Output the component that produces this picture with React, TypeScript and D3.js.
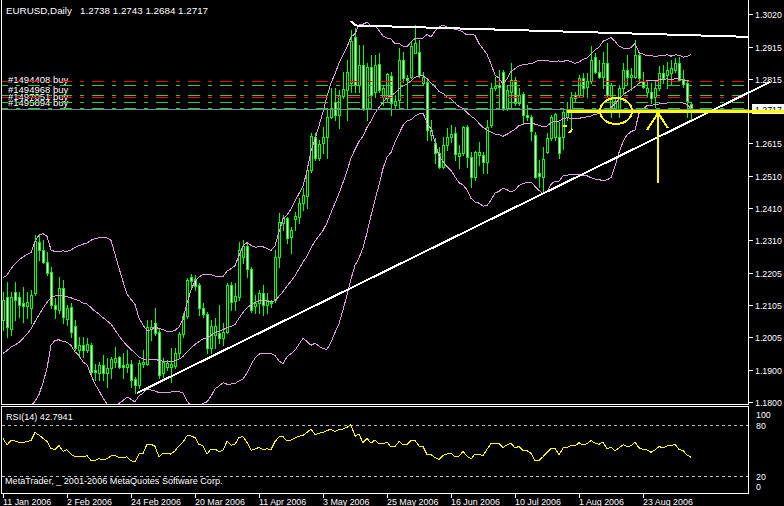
import React, { useEffect } from "react";
import * as d3 from "d3";

// ---------- data ----------
const symbolTitle = "EURUSD,Daily";
const rsiTitle = "RSI(14) 42.7941";
const copyright = "MetaTrader, _ 2001-2006 MetaQuotes Software Corp.";

// closes before the first visible bar (estimated from the band / RSI start)
const priorCloses = [1.1860, 1.1920, 1.1990, 1.1930, 1.1850, 1.1840, 1.1830, 1.1830, 1.1850, 1.1830,
  1.1840, 1.1800, 1.2000, 1.2120, 1.2110, 1.2130, 1.2090, 1.2080, 1.2040];

const opens = [
  1.2058, 1.2129, 1.2031, 1.2147, 1.2129, 1.2110, 1.2102, 1.2097, 1.2144, 1.2304,
  1.2278, 1.2241, 1.2210, 1.2105, 1.2089, 1.2157, 1.2060, 1.2100, 1.2039, 1.1965,
  1.1979, 1.1963, 1.1979, 1.1900, 1.1892, 1.1916, 1.1890, 1.1906, 1.1927, 1.1940,
  1.1915, 1.1911, 1.1919, 1.1871, 1.1853, 1.1921, 1.1921, 1.2031, 1.2047, 1.2021,
  1.1890, 1.1909, 1.1911, 1.1913, 1.1953, 1.2014, 1.2070, 1.2192, 1.2186, 1.2168,
  1.2094, 1.2077, 1.1969, 1.2011, 1.2016, 1.2000, 1.2021, 1.2168, 1.2119, 1.2131,
  1.2257, 1.2290, 1.2217, 1.2102, 1.2110, 1.2142, 1.2105, 1.2115, 1.2121, 1.2255,
  1.2362, 1.2377, 1.2318, 1.2374, 1.2383, 1.2427, 1.2448, 1.2529, 1.2632, 1.2566,
  1.2613, 1.2632, 1.2697, 1.2744, 1.2702, 1.2762, 1.2781, 1.2804, 1.2949, 1.2797,
  1.2860, 1.2726, 1.2854, 1.2776, 1.2863, 1.2758, 1.2755, 1.2825, 1.2733, 1.2749,
  1.2875, 1.2818, 1.2821, 1.2898, 1.2901, 1.2804, 1.2807, 1.2639, 1.2613, 1.2582,
  1.2540, 1.2608, 1.2632, 1.2647, 1.2573, 1.2582, 1.2666, 1.2571, 1.2506, 1.2577,
  1.2577, 1.2556, 1.2671, 1.2786, 1.2797, 1.2839, 1.2723, 1.2776, 1.2814, 1.2741,
  1.2768, 1.2702, 1.2697, 1.2639, 1.2521, 1.2506, 1.2587, 1.2629, 1.2634, 1.2634,
  1.2632, 1.2697, 1.2721, 1.2766, 1.2766, 1.2818, 1.2792, 1.2808, 1.2884, 1.2839,
  1.2823, 1.2865, 1.2718, 1.2718, 1.2718, 1.2787, 1.2844, 1.2823, 1.2823, 1.2891,
  1.2808, 1.2776, 1.2776, 1.2760, 1.2787, 1.2834, 1.2829, 1.2834, 1.2844, 1.2865,
  1.2815, 1.2802, 1.2738];

const highs = [
  1.2147, 1.2178, 1.2147, 1.2178, 1.2147, 1.2162, 1.2147, 1.2152, 1.2325, 1.2325,
  1.2309, 1.2272, 1.2225, 1.2126, 1.2194, 1.2183, 1.2105, 1.2110, 1.2058, 1.2005,
  1.2005, 1.2000, 1.1984, 1.1921, 1.1927, 1.1948, 1.1937, 1.1942, 1.1974, 1.1944,
  1.1953, 1.1963, 1.1932, 1.1879, 1.1932, 1.1963, 1.2058, 1.2058, 1.2094, 1.2031,
  1.1937, 1.1932, 1.1969, 1.1969, 1.2021, 1.2079, 1.2189, 1.2204, 1.2199, 1.2173,
  1.2110, 1.2084, 1.2058, 1.2063, 1.2105, 1.2047, 1.2173, 1.2178, 1.2173, 1.2304,
  1.2309, 1.2299, 1.2225, 1.2136, 1.2152, 1.2168, 1.2142, 1.2121, 1.2278, 1.2393,
  1.2388, 1.2383, 1.2351, 1.2398, 1.2440, 1.2472, 1.2545, 1.2645, 1.2645, 1.2624,
  1.2666, 1.2718, 1.2786, 1.2786, 1.2781, 1.2839, 1.2875, 1.2970, 1.2975, 1.2922,
  1.2922, 1.2865, 1.2891, 1.2891, 1.2896, 1.2797, 1.2833, 1.2839, 1.2765, 1.2912,
  1.2901, 1.2828, 1.2936, 1.2985, 1.2938, 1.2839, 1.2812, 1.2687, 1.2629, 1.2603,
  1.2634, 1.2660, 1.2671, 1.2666, 1.2608, 1.2668, 1.2671, 1.2587, 1.2590, 1.2618,
  1.2587, 1.2687, 1.2802, 1.2823, 1.2844, 1.2844, 1.2797, 1.2865, 1.2823, 1.2786,
  1.2776, 1.2734, 1.2702, 1.2650, 1.2561, 1.2603, 1.2645, 1.2702, 1.2708, 1.2681,
  1.2723, 1.2744, 1.2776, 1.2776, 1.2829, 1.2834, 1.2834, 1.2918, 1.2897, 1.2876,
  1.2902, 1.2928, 1.2802, 1.2760, 1.2797, 1.2865, 1.2891, 1.2849, 1.2939, 1.2902,
  1.2839, 1.2813, 1.2802, 1.2813, 1.2855, 1.2860, 1.2870, 1.2876, 1.2881, 1.2886,
  1.2844, 1.2813, 1.2743];

const lows = [
  1.2026, 1.2005, 1.2010, 1.2058, 1.2068, 1.2052, 1.2063, 1.2047, 1.2136, 1.2246,
  1.2236, 1.2199, 1.2094, 1.2063, 1.2079, 1.2047, 1.2042, 1.2005, 1.1963, 1.1942,
  1.1942, 1.1958, 1.1885, 1.1869, 1.1869, 1.1869, 1.1848, 1.1874, 1.1911, 1.1906,
  1.1874, 1.1895, 1.1848, 1.1827, 1.1843, 1.1911, 1.1916, 1.1995, 1.2010, 1.1874,
  1.1879, 1.1900, 1.1864, 1.1906, 1.1942, 1.2005, 1.2063, 1.2163, 1.2152, 1.2074,
  1.2068, 1.1953, 1.1953, 1.1969, 1.1985, 1.1979, 1.2016, 1.2089, 1.2089, 1.2121,
  1.2236, 1.2194, 1.2084, 1.2079, 1.2079, 1.2074, 1.2079, 1.2100, 1.2115, 1.2225,
  1.2341, 1.2299, 1.2267, 1.2341, 1.2362, 1.2404, 1.2409, 1.2524, 1.2561, 1.2561,
  1.2582, 1.2566, 1.2692, 1.2687, 1.2660, 1.2755, 1.2687, 1.2776, 1.2776, 1.2776,
  1.2718, 1.2687, 1.2729, 1.2760, 1.2776, 1.2734, 1.2744, 1.2702, 1.2723, 1.2723,
  1.2807, 1.2723, 1.2818, 1.2896, 1.2823, 1.2797, 1.2624, 1.2624, 1.2550, 1.2535,
  1.2535, 1.2592, 1.2618, 1.2561, 1.2535, 1.2577, 1.2540, 1.2477, 1.2498, 1.2545,
  1.2519, 1.2519, 1.2666, 1.2781, 1.2729, 1.2718, 1.2718, 1.2729, 1.2734, 1.2734,
  1.2676, 1.2687, 1.2624, 1.2503, 1.2477, 1.2456, 1.2582, 1.2624, 1.2624, 1.2566,
  1.2597, 1.2687, 1.2666, 1.2745, 1.2760, 1.2760, 1.2760, 1.2802, 1.2834, 1.2818,
  1.2787, 1.2760, 1.2697, 1.2713, 1.2697, 1.2771, 1.2797, 1.2781, 1.2818, 1.2802,
  1.2787, 1.2760, 1.2739, 1.2729, 1.2781, 1.2802, 1.2787, 1.2797, 1.2839, 1.2808,
  1.2792, 1.2697, 1.2684];

const closes = [
  1.2120, 1.2035, 1.2131, 1.2120, 1.2105, 1.2102, 1.2115, 1.2136, 1.2307, 1.2278,
  1.2241, 1.2206, 1.2105, 1.2091, 1.2157, 1.2068, 1.2094, 1.2021, 1.1969, 1.1979,
  1.1963, 1.1982, 1.1895, 1.1895, 1.1916, 1.1890, 1.1908, 1.1934, 1.1939, 1.1911,
  1.1911, 1.1919, 1.1869, 1.1853, 1.1923, 1.1927, 1.2035, 1.2035, 1.2016, 1.1885,
  1.1927, 1.1923, 1.1918, 1.1953, 1.2014, 1.2070, 1.2183, 1.2181, 1.2165, 1.2094,
  1.2077, 1.1969, 1.2039, 1.2039, 1.2000, 1.2021, 1.2168, 1.2115, 1.2133, 1.2278,
  1.2290, 1.2217, 1.2089, 1.2112, 1.2142, 1.2105, 1.2121, 1.2110, 1.2255, 1.2367,
  1.2377, 1.2315, 1.2341, 1.2385, 1.2427, 1.2451, 1.2529, 1.2636, 1.2566, 1.2611,
  1.2634, 1.2697, 1.2726, 1.2702, 1.2764, 1.2783, 1.2839, 1.2936, 1.2797, 1.2860,
  1.2726, 1.2854, 1.2765, 1.2860, 1.2781, 1.2786, 1.2831, 1.2739, 1.2747, 1.2875,
  1.2818, 1.2814, 1.2919, 1.2928, 1.2828, 1.2823, 1.2655, 1.2655, 1.2582, 1.2540,
  1.2608, 1.2632, 1.2643, 1.2580, 1.2584, 1.2664, 1.2571, 1.2508, 1.2587, 1.2587,
  1.2556, 1.2664, 1.2786, 1.2794, 1.2791, 1.2723, 1.2781, 1.2812, 1.2741, 1.2765,
  1.2702, 1.2697, 1.2653, 1.2508, 1.2511, 1.2563, 1.2629, 1.2697, 1.2706, 1.2582,
  1.2713, 1.2720, 1.2760, 1.2755, 1.2818, 1.2787, 1.2808, 1.2874, 1.2839, 1.2823,
  1.2865, 1.2766, 1.2797, 1.2745, 1.2787, 1.2844, 1.2823, 1.2829, 1.2891, 1.2818,
  1.2792, 1.2787, 1.2755, 1.2787, 1.2834, 1.2818, 1.2844, 1.2849, 1.2865, 1.2813,
  1.2800, 1.2745, 1.2717];

const dateLabels = ["11 Jan 2006", "2 Feb 2006", "24 Feb 2006", "20 Mar 2006", "11 Apr 2006",
  "3 May 2006", "25 May 2006", "16 Jun 2006", "10 Jul 2006", "1 Aug 2006", "23 Aug 2006"];
const dateBars = [0, 16, 32, 48, 64, 80, 96, 112, 128, 144, 160];

const priceTicks = [1.3020, 1.2915, 1.2815, 1.2615, 1.2510, 1.2410, 1.2310, 1.2205, 1.2105, 1.2005, 1.1900, 1.1800];
const rsiLabels = [100, 80, 20, 0];
const rsiLevels = [80, 20];

const orderTickets = ["#1494408", "#1494968", "#1497051", "#1495894"];
const orderPrices = [1.2797, 1.2764, 1.2742, 1.2723];
const stopPrices = [1.2808, 1.2758];
const bidPrice = 1.2720;

// drawn objects in (bar, price) space
const upperTrend = [[87, 1.2998], [88, 1.2984], [186.5, 1.2948]];
const lowerTrend = [[33.5, 1.1828], [191.75, 1.2806]];
const yellowLevel = { from: 141, to: 195.25, price: 1.2715 };
const ellipseMark = { bar: 153.25, price: 1.2715, halfBars: 4, halfPrice: 0.0041 };
const arrowShaft = [[163.75, 1.2709], [163.75, 1.2489]];
const arrowHead = [[161, 1.2655], [163.75, 1.2709], [166.25, 1.2661]];
const yellowDash = [[139.9, 1.2668], [141.1, 1.2668]];
const yellowHook = [[141.3, 1.2647], [141.9, 1.2650], [142.3, 1.2659]];

// ---------- indicators ----------
const allCloses = [...priorCloses, ...closes];
const P = priorCloses.length;
function bands(period: number, dev: number) {
  const mid: number[] = [], up: number[] = [], lo: number[] = [];
  for (let k = P; k < allCloses.length; k++) {
    const w = allCloses.slice(Math.max(0, k - period + 1), k + 1);
    const m = d3.mean(w) as number;
    const sd = Math.sqrt(d3.mean(w, (v) => (v - m) * (v - m)) as number);
    mid.push(m); up.push(m + dev * sd); lo.push(m - dev * sd);
  }
  return { mid, up, lo };
}
function rsiCalc(n: number) {
  const out: number[] = new Array(allCloses.length).fill(NaN);
  let pos = 0, neg = 0;
  for (let k = 1; k <= n; k++) {
    const d = allCloses[k] - allCloses[k - 1];
    if (d > 0) pos += d; else neg -= d;
  }
  pos /= n; neg /= n;
  out[n] = neg === 0 ? 100 : 100 - 100 / (1 + pos / neg);
  for (let k = n + 1; k < allCloses.length; k++) {
    const d = allCloses[k] - allCloses[k - 1];
    pos = (pos * (n - 1) + Math.max(d, 0)) / n;
    neg = (neg * (n - 1) + Math.max(-d, 0)) / n;
    out[k] = neg === 0 ? 100 : 100 - 100 / (1 + pos / neg);
  }
  return out.slice(P);
}

const FONT = "'Liberation Sans', Arial, sans-serif";
const LIME = "#00ff00";
const ORDER_GREEN = "#33cc33";
const BAND = "#dda0dd";

export default function App() {
  useEffect(() => {
    document.body.style.margin = "0";
    document.body.style.background = "#000";
  }, []);

  const last = closes.length - 1;
  const x = d3.scaleLinear().domain([0, last]).range([3, 3 + 4 * last]);
  const y = d3.scaleLinear().domain([1.1800, 1.3020]).range([402, 14]);
  const yR = d3.scaleLinear().domain([0, 100]).range([493, 408]);

  const L = 1.5, R = 748.5, MB = 404.5, RT = 406.5, RB = 493.5;

  const bb = bands(20, 2);
  const rsi = rsiCalc(14);
  const bandLine = d3.line<number>().x((_, i) => x(i)).y((d) => y(d));
  const rsiLine = d3.line<number>().defined((d) => !isNaN(d)).x((_, i) => x(i)).y((d) => yR(d));
  const pLine = d3.line<number[]>().x((d) => x(d[0])).y((d) => y(d[1]));

  const header = `${symbolTitle}   ${opens[last].toFixed(4)} ${highs[last].toFixed(4)} ${lows[last].toFixed(4)} ${closes[last].toFixed(4)}`;

  const candles = closes.map((c, i) => {
    const o = opens[i];
    const cx = Math.round(x(i));
    const top = Math.round(y(Math.max(o, c)));
    const bot = Math.round(y(Math.min(o, c)));
    const hy = Math.round(y(highs[i]));
    const ly = Math.round(y(lows[i]));
    const bull = c >= o;
    return (
      <g key={i}>
        <line x1={cx + 0.5} x2={cx + 0.5} y1={hy} y2={ly + 1} stroke={LIME} strokeWidth={1} />
        <rect x={cx - 0.5} y={top + 0.5} width={2} height={Math.max(bot - top, 0)}
          fill={bull ? "#000" : "#fff"} stroke={LIME} strokeWidth={1} />
      </g>
    );
  });

  const ex = x(ellipseMark.bar), ey = y(ellipseMark.price);
  const erx = x(ellipseMark.bar + ellipseMark.halfBars) - ex;
  const ery = y(ellipseMark.price - ellipseMark.halfPrice) - ey;

  const bidY = Math.round(y(closes[last]));

  return (
    <div style={{ position: "absolute", left: 0, top: 0, width: 784, height: 506, background: "#000" }}>
      <svg width={784} height={506} style={{ display: "block" }} fontFamily={FONT}>
        <defs>
          <clipPath id="mainClip"><rect x={2} y={0} width={746} height={404} /></clipPath>
          <clipPath id="rsiClip"><rect x={2} y={407} width={746} height={86} /></clipPath>
        </defs>
        <rect x={0} y={0} width={784} height={506} fill="#000" />

        {/* order labels (under the lines) */}
        {orderTickets.map((t, k) => (
          <text key={t} x={8} y={Math.round(y(orderPrices[k])) - 2} fill="#fff" fontSize={9.5}>{`${t} buy`}</text>
        ))}

        <g clipPath="url(#mainClip)" shapeRendering="crispEdges">
          {candles}
          <path d={bandLine(bb.up) || ""} fill="none" stroke={BAND} strokeWidth={1} />
          <path d={bandLine(bb.mid) || ""} fill="none" stroke={BAND} strokeWidth={1} />
          <path d={bandLine(bb.lo) || ""} fill="none" stroke={BAND} strokeWidth={1} />
          {/* bid line */}
          <line x1={L} x2={R} y1={Math.round(y(bidPrice)) + 0.5} y2={Math.round(y(bidPrice)) + 0.5} stroke="#778899" strokeWidth={1} />
          {/* order lines */}
          {stopPrices.map((p, k) => (
            <line key={"s" + k} x1={2} x2={R} y1={Math.round(y(p)) + 0.5} y2={Math.round(y(p)) + 0.5}
              stroke="#ff0000" strokeWidth={1} strokeDasharray="12,8,4,8" strokeDashoffset={6} />
          ))}
          {orderPrices.map((p, k) => (
            <line key={"o" + k} x1={2} x2={R} y1={Math.round(y(p)) + 0.5} y2={Math.round(y(p)) + 0.5}
              stroke={ORDER_GREEN} strokeWidth={1} strokeDasharray="12,8,4,8" strokeDashoffset={6} />
          ))}
        </g>

        {/* trendlines */}
        <g shapeRendering="crispEdges">
          <path d={pLine(upperTrend) || ""} fill="none" stroke="#fff" strokeWidth={2} />
          <path d={pLine(lowerTrend) || ""} fill="none" stroke="#fff" strokeWidth={2} />
        </g>

        {/* frames */}
        <g shapeRendering="crispEdges" stroke="#fff" strokeWidth={1} fill="none">
          <line x1={L} x2={L} y1={0} y2={MB} />
          <line x1={R} x2={R} y1={0} y2={MB} />
          <line x1={L} x2={R} y1={MB} y2={MB} />
          <rect x={L} y={RT} width={R - L} height={RB - RT} />
          {priceTicks.map((p) => (
            <line key={p} x1={R} x2={R + 4} y1={Math.round(y(p)) + 0.5} y2={Math.round(y(p)) + 0.5} />
          ))}
          {dateBars.map((b) => (
            <line key={b} x1={Math.round(x(b)) + 0.5} x2={Math.round(x(b)) + 0.5} y1={RB} y2={RB + 4} />
          ))}
        </g>

        {/* price axis labels */}
        {priceTicks.map((p) => (
          <text key={p} x={755} y={Math.round(y(p)) + 3.5} fill="#fff" fontSize={8.8}>{p.toFixed(4)}</text>
        ))}
        <rect x={752} y={bidY - 6} width={32} height={10} fill="#fff" />
        <text x={755} y={bidY + 3} fill="#000" fontSize={8.8}>{closes[last].toFixed(4)}</text>

        {/* RSI panel */}
        <g clipPath="url(#rsiClip)">
          {rsiLevels.map((v) => (
            <line key={v} x1={2} x2={R} y1={Math.round(yR(v)) + 0.5} y2={Math.round(yR(v)) + 0.5}
              stroke="#c0c0c0" strokeWidth={1} strokeDasharray="3,3" shapeRendering="crispEdges" />
          ))}
          <path d={rsiLine(rsi) || ""} fill="none" stroke="#ffff00" strokeWidth={1} shapeRendering="crispEdges" />
        </g>
        {rsiLabels.map((v, k) => (
          <text key={v} x={756} y={[418, 428.5, 479.5, 490][k]} fill="#fff" fontSize={8.8}>{v}</text>
        ))}
        <text x={6} y={420} fill="#fff" fontSize={9.1}>{rsiTitle}</text>
        <text x={5} y={484} fill="#fff" fontSize={9.1} style={{ whiteSpace: "pre" }}>{copyright}</text>

        {/* date labels */}
        {dateLabels.map((t, k) => (
          <text key={t} x={Math.round(x(dateBars[k]))} y={505} fill="#fff" fontSize={8.9}>{t}</text>
        ))}

        {/* header */}
        <text x={6} y={14} fill="#fff" fontSize={9.8} style={{ whiteSpace: "pre" }}>{header}</text>

        {/* yellow annotations */}
        <g stroke="#ffff00" fill="none" shapeRendering="crispEdges">
          <line x1={x(yellowLevel.from)} x2={x(yellowLevel.to)} y1={y(yellowLevel.price)} y2={y(yellowLevel.price)} strokeWidth={3} />
          <ellipse cx={ex} cy={ey} rx={erx} ry={ery} strokeWidth={2} />
          <path d={pLine(arrowShaft) || ""} strokeWidth={2} />
          <path d={pLine(arrowHead) || ""} strokeWidth={2} />
          <path d={pLine(yellowDash) || ""} strokeWidth={2} />
          <path d={pLine(yellowHook) || ""} strokeWidth={1.5} />
        </g>
      </svg>
    </div>
  );
}
